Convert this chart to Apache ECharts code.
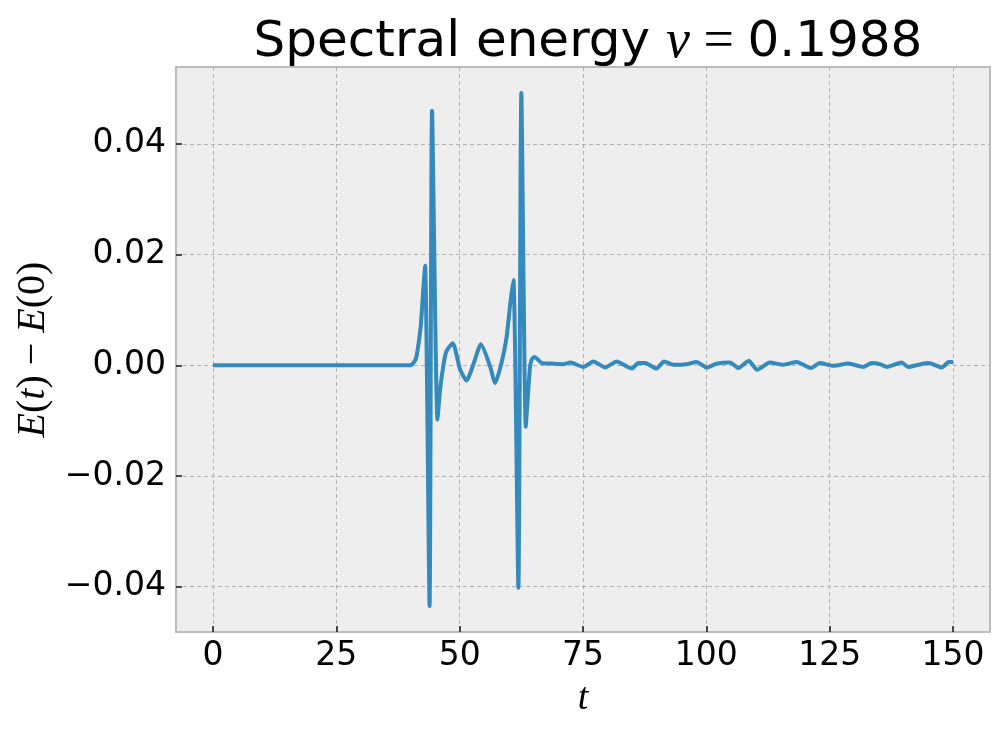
<!DOCTYPE html>
<html>
<head>
<meta charset="utf-8">
<script src="https://cdn.jsdelivr.net/npm/echarts@6/dist/echarts.min.js"></script>
<style>
html,body{margin:0;padding:0;background:#fff;}
#chart{width:1004px;height:733px;}
</style>
</head>
<body>
<div id="chart"></div>
<script>
// Data
const tValues = [0, 10, 20, 30, 38, 40, 40.8, 41.3, 42.1, 42.6, 43.0, 43.9, 44.4, 45.5, 46.0, 46.7, 47.3, 48.6, 50.1, 51.4, 52.9, 54.3, 56.1, 57.2, 58.5, 59.5, 60.3, 60.9, 61.9, 62.5, 63.4, 63.9, 64.3, 64.7, 65.2, 66.6, 68.5, 71.0, 72.4, 75.1, 77.1, 79.5, 81.8, 84.9, 86.2, 87.6, 89.9, 91.4, 93.3, 96.0, 98.0, 100.1, 102.1, 104.8, 106.5, 108.6, 110.3, 112.9, 115.6, 118.3, 121.2, 123.0, 125.7, 128.8, 131.8, 133.5, 135.2, 136.6, 139.6, 140.9, 143.0, 145.0, 147.8, 149.1, 150.0];
const energyValues = [0, 0, 0, 0, 0, 0, 0.0006, 0.0018, 0.007, 0.0134, 0.018, -0.0435, 0.046, -0.0098, -0.0047, 0.0, 0.0025, 0.0040, -0.0008, -0.00275, 0.0005, 0.0038, 0.0, -0.0032, 0.0005, 0.005, 0.0115, 0.0154, -0.0402, 0.0492, -0.0111, -0.0046, 0.0, 0.0012, 0.0015, 0.00045, 0.0003, 0.0002, 0.0005, -0.0003, 0.0007, -0.0004, 0.0007, -0.0006, 0.0004, 0.0004, -0.0006, 0.0007, 0.0001, 0.0002, 0.0006, -0.0004, 0.0003, 0.0005, -0.0005, 0.0008, -0.0008, 0.0005, 0.0001, 0.0006, -0.0005, 0.0004, -0.0001, 0.0003, -0.0003, 0.0004, 0.0002, -0.0003, 0.0005, -0.0003, 0.0001, 0.0004, -0.0004, 0.0006, 0.0006];
const xTicks = [0, 25, 50, 75, 100, 125, 150];
const yTicks = [-0.04, -0.02, 0, 0.02, 0.04];
const titleText = 'Spectral energy ';
const titleValue = '0.1988';

const seriesData = tValues.map((t, i) => [t, energyValues[i]]);
const chart = echarts.init(document.getElementById('chart'));
const tickFont = 'DejaVu Sans';
const mathFont = 'Liberation Serif';

chart.setOption({
  animation: false,
  backgroundColor: '#ffffff',
  title: {
    left: 583,
    top: 11,
    textAlign: 'center',
    text: '{a|' + titleText + '}{v|v}{e| = }{a|' + titleValue + '}',
    textStyle: {
      fontWeight: 'normal',
      rich: {
        a: {fontFamily: tickFont, fontSize: 50, fontWeight: 'normal', color: '#000'},
        v: {fontFamily: mathFont, fontStyle: 'italic', fontWeight: 'normal', fontSize: 54, color: '#000'},
        e: {fontFamily: mathFont, fontWeight: 'normal', fontSize: 54, color: '#000'}
      }
    }
  },
  grid: {
    left: 176, top: 67, right: 14, bottom: 101,
    containLabel: false,
    outerBoundsMode: 'none',
    show: true,
    backgroundColor: '#eeeeee',
    borderColor: '#bcbcbc',
    borderWidth: 2
  },
  xAxis: {
    type: 'value',
    min: -7.5,
    max: 157.5,
    name: 't',
    nameLocation: 'middle',
    nameGap: 48,
    nameTextStyle: {fontFamily: mathFont, fontStyle: 'italic', fontSize: 38, color: '#000'},
    axisLine: {show: false, onZero: false},
    axisTick: {show: true, inside: true, length: 6, lineStyle: {color: '#222', width: 1.6}, customValues: xTicks},
    axisLabel: {fontFamily: tickFont, fontSize: 33, color: '#000', margin: 8, customValues: xTicks,
      formatter: v => String(v)},
    splitLine: {show: true, lineStyle: {color: '#b2b2b2', type: [4, 3], width: 1}}
  },
  yAxis: {
    type: 'value',
    min: -0.0482,
    max: 0.0539,
    name: '{i|E}{r|(}{i|t}{r|) − }{i|E}{r|(0)}',
    nameLocation: 'middle',
    nameGap: 122,
    nameRotate: 90,
    nameTextStyle: {
      rich: {
        i: {fontFamily: mathFont, fontStyle: 'italic', fontSize: 40, color: '#000'},
        r: {fontFamily: mathFont, fontSize: 40, color: '#000'}
      }
    },
    axisLine: {show: false, onZero: false},
    axisTick: {show: true, inside: true, length: 6, lineStyle: {color: '#222', width: 1.6}, customValues: yTicks},
    axisLabel: {fontFamily: tickFont, fontSize: 33, color: '#000', margin: 10, customValues: yTicks,
      formatter: v => (v < -1e-9 ? '−' : '') + Math.abs(v).toFixed(2)},
    splitLine: {show: true, lineStyle: {color: '#b2b2b2', type: [4, 3], width: 1}}
  },
  series: [{
    type: 'line',
    data: seriesData,
    showSymbol: false,
    smooth: 0.2,
    lineStyle: {color: '#348ABD', width: 4},
    itemStyle: {color: '#348ABD'}
  }]
});
</script>
</body>
</html>
